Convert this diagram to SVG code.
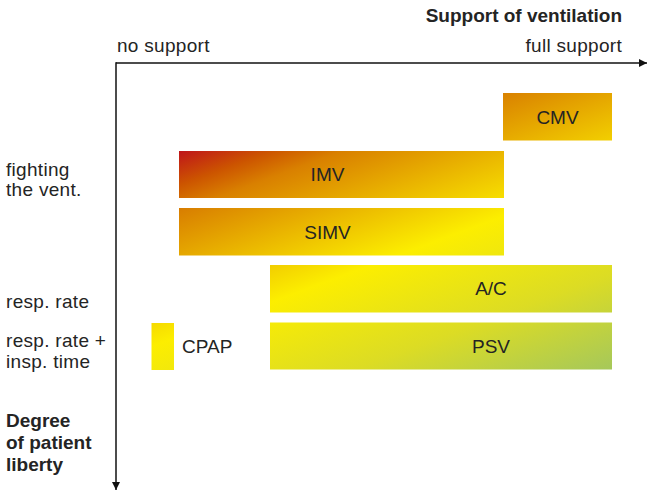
<svg xmlns="http://www.w3.org/2000/svg" width="648" height="492" viewBox="0 0 648 492">
<defs>
<linearGradient id="heat" gradientUnits="userSpaceOnUse" x1="179" y1="151" x2="302" y2="483.5">
<stop offset="0" stop-color="#bf141a"/>
<stop offset="0.09" stop-color="#cc5400"/>
<stop offset="0.16" stop-color="#d98000"/>
<stop offset="0.32" stop-color="#eab600"/>
<stop offset="0.49" stop-color="#fcee00"/>
<stop offset="0.75" stop-color="#dcdc24"/>
<stop offset="1" stop-color="#a6c85a"/>
</linearGradient>
<marker id="arrow" viewBox="0 0 10 10" refX="10" refY="5" markerWidth="8" markerHeight="8" markerUnits="userSpaceOnUse" orient="auto">
<path d="M0,0 L10,5 L0,10 Z" fill="#111"/>
</marker>
</defs>
<style>
text{font-family:"Liberation Sans",Arial,sans-serif;font-size:19px;fill:#242424;letter-spacing:0.3px}
.b{font-weight:bold;letter-spacing:0}
.bar{fill:url(#heat)}
.lab{text-anchor:middle;letter-spacing:0}
.axis{stroke:#111;stroke-width:1.5;fill:none}
</style>
<rect width="648" height="492" fill="#fff"/>
<g id="connectors">
<line class="axis" x1="116" y1="63" x2="647" y2="63" marker-end="url(#arrow)"/>
<line class="axis" x1="116" y1="62.3" x2="116" y2="490" marker-end="url(#arrow)"/>
</g>
<g id="axis-labels">
<text class="b" x="622" y="22" text-anchor="end">Support of ventilation</text>
<text x="117" y="52">no support</text>
<text x="622" y="52" text-anchor="end">full support</text>
<text x="6" y="175.5">fighting</text>
<text x="6" y="195.5">the vent.</text>
<text x="6" y="308">resp. rate</text>
<text x="6" y="347">resp. rate +</text>
<text x="6" y="368">insp. time</text>
<text class="b" x="6" y="427">Degree</text>
<text class="b" x="6" y="449">of patient</text>
<text class="b" x="6" y="471">liberty</text>
</g>
<g id="CMV">
<rect class="bar" x="503" y="93" width="109" height="47.5"/>
<text class="lab" x="557.5" y="123.5">CMV</text>
</g>
<g id="IMV">
<rect class="bar" x="179" y="151" width="325" height="47"/>
<text class="lab" x="327.5" y="181">IMV</text>
</g>
<g id="SIMV">
<rect class="bar" x="179" y="208" width="325" height="47.5"/>
<text class="lab" x="327.5" y="238.5">SIMV</text>
</g>
<g id="AC">
<rect class="bar" x="270" y="265" width="342" height="47.5"/>
<text class="lab" x="491" y="295">A/C</text>
</g>
<g id="PSV">
<rect class="bar" x="270" y="322.5" width="342" height="47"/>
<text class="lab" x="491" y="352.5">PSV</text>
</g>
<g id="CPAP">
<rect class="bar" x="151.5" y="323" width="22.5" height="47"/>
<text x="182" y="353" style="letter-spacing:0">CPAP</text>
</g>
</svg>
